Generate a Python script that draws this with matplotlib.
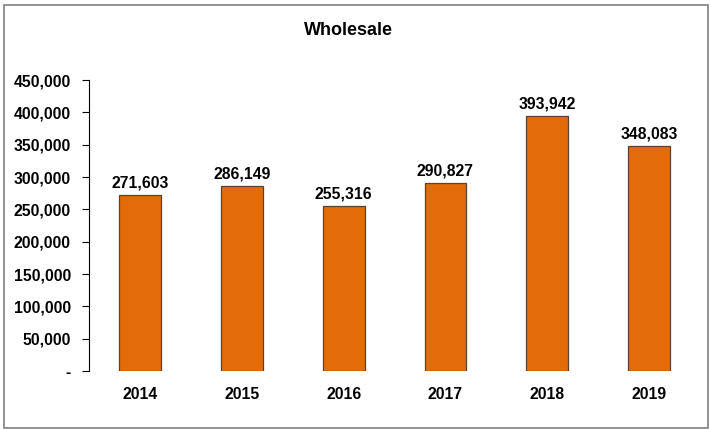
import matplotlib.pyplot as plt
from matplotlib.patches import Rectangle

years = ["2014", "2015", "2016", "2017", "2018", "2019"]
values = [271603, 286149, 255316, 290827, 393942, 348083]
yticks = [0, 50000, 100000, 150000, 200000, 250000, 300000, 350000, 400000, 450000]

plt.rcParams['font.family'] = ['Liberation Sans', 'DejaVu Sans']
plt.rcParams['font.weight'] = 'bold'

fig = plt.figure(figsize=(7.1, 4.29), dpi=100)
ax = fig.add_axes([0.1254, 0.1352, 0.986 - 0.1254, 0.8135 - 0.1352])

x = list(range(len(years)))
bars = ax.bar(x, values, width=0.41, color="#E36C0A", edgecolor="#5a4030", linewidth=0.9)

for xi, v in zip(x, values):
    ax.text(xi, v + 7000, f"{v:,}", ha="center", va="bottom", fontsize=11.3, fontweight="bold")

ax.set_xlim(-0.5, len(years) - 0.5)
ax.set_ylim(0, 450000)
ax.set_yticks(yticks)
ax.set_yticklabels(["-" if t == 0 else f"{t:,}" for t in yticks], fontsize=11.3, fontweight="bold")
ax.set_xticks(x)
ax.set_xticklabels(years, fontsize=11.3, fontweight="bold")
ax.tick_params(axis="x", length=0, pad=11.5)
ax.tick_params(axis="y", length=5, width=0.8, pad=8, direction="out")

for s in ["top", "right", "bottom"]:
    ax.spines[s].set_visible(False)
ax.spines["left"].set_linewidth(0.8)

fig.text(0.491, 0.93, "Wholesale", ha="center", va="center", fontsize=13, fontweight="bold")

# outer chart border
fig.patches.append(Rectangle((3.5 / 710, 0.002), 704.5 / 710, 1 - 4.5 / 429 - 0.002,
                             transform=fig.transFigure, fill=False,
                             edgecolor="#7f7f7f", linewidth=1.2))

fig.savefig("out.png", dpi=100)
